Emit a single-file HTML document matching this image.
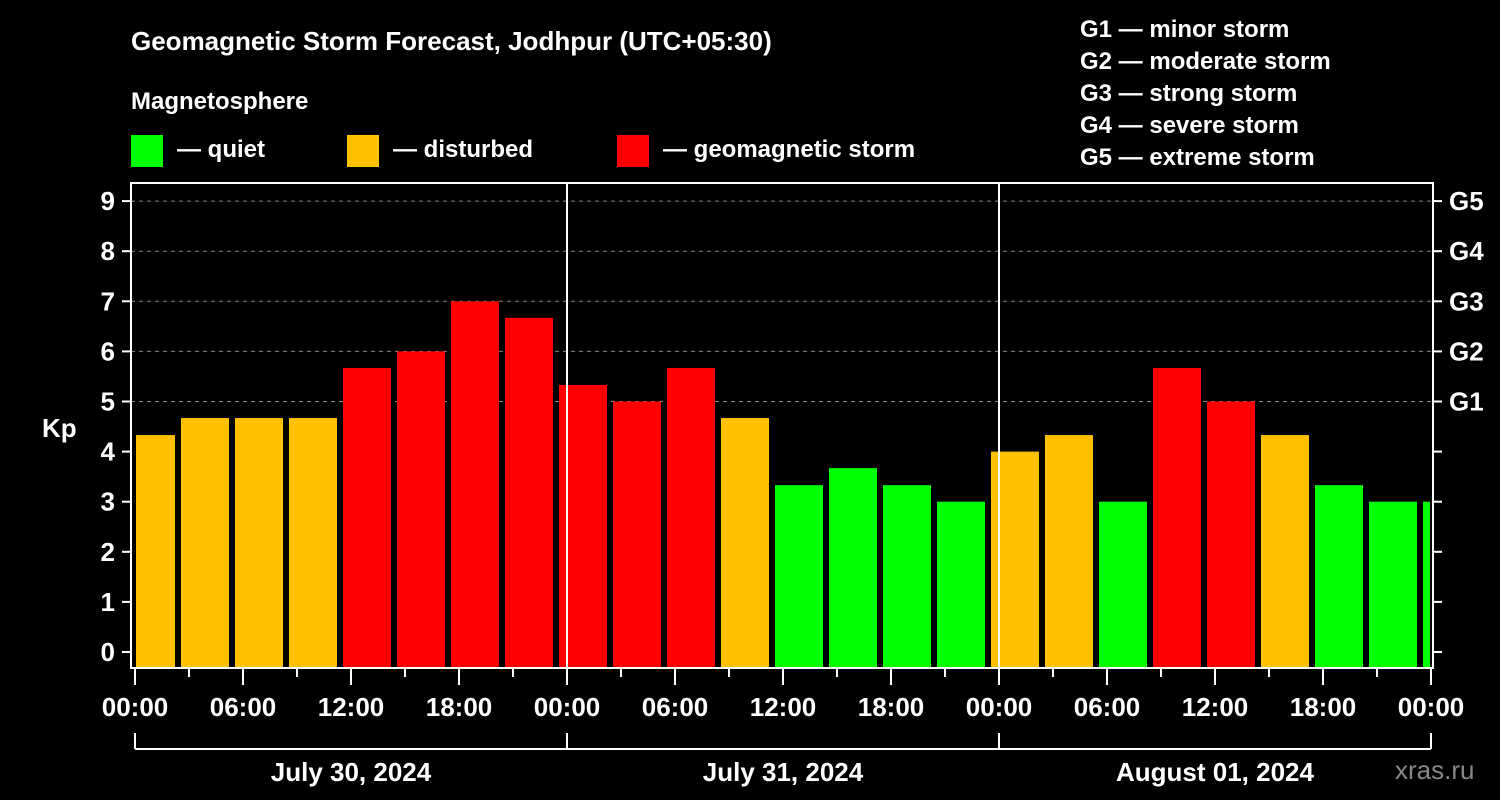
<!DOCTYPE html>
<html><head><meta charset="utf-8"><style>
html,body{margin:0;padding:0;background:#000;}
svg{display:block;font-family:"Liberation Sans",Arial,sans-serif;font-weight:bold;}
</style></head><body>
<svg id="chart" width="1500" height="800" viewBox="0 0 1500 800">
<rect width="1500" height="800" fill="#000"/>
<text x="131" y="50" fill="#fff" font-size="26">Geomagnetic Storm Forecast, Jodhpur (UTC+05:30)</text>
<text x="131" y="109" fill="#fff" font-size="24">Magnetosphere</text>
<g><rect x="131" y="135" width="32" height="32" fill="#00ff00"/><text x="177" y="157" fill="#fff" font-size="24">— quiet</text></g>
<g><rect x="347" y="135" width="32" height="32" fill="#ffc000"/><text x="393" y="157" fill="#fff" font-size="24">— disturbed</text></g>
<g><rect x="617" y="135" width="32" height="32" fill="#ff0000"/><text x="663" y="157" fill="#fff" font-size="24">— geomagnetic storm</text></g>
<g fill="#fff" font-size="24">
<text x="1080" y="37">G1 — minor storm</text>
<text x="1080" y="69">G2 — moderate storm</text>
<text x="1080" y="101">G3 — strong storm</text>
<text x="1080" y="133">G4 — severe storm</text>
<text x="1080" y="165">G5 — extreme storm</text>
</g>
<text x="42" y="437" fill="#fff" font-size="26">Kp</text>
<text x="1395" y="779" fill="#888" font-size="26" font-weight="normal">xras.ru</text>
<g id="grid"></g>
<g id="bars"></g>
<g id="axes"></g>
</svg>
<script>
const kpValues = [4.33,4.67,4.67,4.67,5.67,6,7,6.67,5.33,5,5.67,4.67,3.33,3.67,3.33,3,4,4.33,3,5.67,5,4.33,3.33,3,3];
const barCenterHours = [0.5,3.5,6.5,9.5,12.5,15.5,18.5,21.5,24.5,27.5,30.5,33.5,36.5,39.5,42.5,45.5,48.5,51.5,54.5,57.5,60.5,63.5,66.5,69.5,72.5];
const yTicks = [0,1,2,3,4,5,6,7,8,9];
const gLabels = ["G1","G2","G3","G4","G5"];
const xTickLabels = ["00:00","06:00","12:00","18:00","00:00","06:00","12:00","18:00","00:00","06:00","12:00","18:00","00:00"];
const dayLabels = ["July 30, 2024","July 31, 2024","August 01, 2024"];

const NS="http://www.w3.org/2000/svg";
const L=131,R=1433,T=183,B=668;
const x=h=>135+h*18;
const y=v=>652-v*50.1;
function mk(tag,attrs,parent,txt){const e=document.createElementNS(NS,tag);for(const k in attrs)e.setAttribute(k,attrs[k]);if(txt!==undefined)e.textContent=txt;document.getElementById(parent).appendChild(e);return e;}
// grid
for(let v=5;v<=9;v++){const g=mk('line',{x1:L,x2:R,y1:y(v),y2:y(v),stroke:'#888','stroke-dasharray':'4,4','stroke-width':1},'grid');

}
// bars
kpValues.forEach((v,i)=>{const c=barCenterHours[i];let x0=Math.max(x(c-1)+1,L+5),x1=Math.min(x(c+2)-5,R-3);
const col=v>=5?'#ff0000':(v>=4?'#ffc000':'#00ff00');
const r=mk('rect',{x:x0,y:y(v),width:x1-x0,height:B-y(v),fill:col},'bars');

});
// frame
const f=mk('rect',{x:L,y:T,width:R-L,height:B-T,fill:'none',stroke:'#fff','stroke-width':2},'axes');


[567,999].forEach(px=>{const d=mk('line',{x1:px,x2:px,y1:T,y2:B,stroke:'#fff','stroke-width':2},'axes');

});
// y ticks
yTicks.forEach(v=>{mk('line',{x1:122,x2:L,y1:y(v),y2:y(v),stroke:'#fff','stroke-width':2},'axes');
mk('line',{x1:R,x2:1442,y1:y(v),y2:y(v),stroke:'#fff','stroke-width':2},'axes');
const t=mk('text',{x:115,y:y(v)+9,fill:'#fff','font-size':26,'text-anchor':'end'},'axes',String(v));

});
gLabels.forEach((g,i)=>{const t=mk('text',{x:1449,y:y(5+i)+9,fill:'#fff','font-size':26},'axes',g);

});
// x ticks
for(let h=0;h<=72;h+=3){const major=h%6===0;mk('line',{x1:x(h),x2:x(h),y1:B,y2:B+(major?17:9),stroke:'#fff','stroke-width':2},'axes');}
xTickLabels.forEach((s,i)=>{const t=mk('text',{x:x(i*6),y:716,fill:'#fff','font-size':26,'text-anchor':'middle'},'axes',s);

});
// day bracket
mk('line',{x1:x(0),x2:x(72),y1:749,y2:749,stroke:'#fff','stroke-width':2},'axes');
[0,24,48,72].forEach(h=>mk('line',{x1:x(h),x2:x(h),y1:733,y2:749,stroke:'#fff','stroke-width':2},'axes'));
dayLabels.forEach((d,i)=>{const t=mk('text',{x:x(i*24+12),y:781,fill:'#fff','font-size':26,'text-anchor':'middle'},'axes',d);

});
</script>
</body></html>
